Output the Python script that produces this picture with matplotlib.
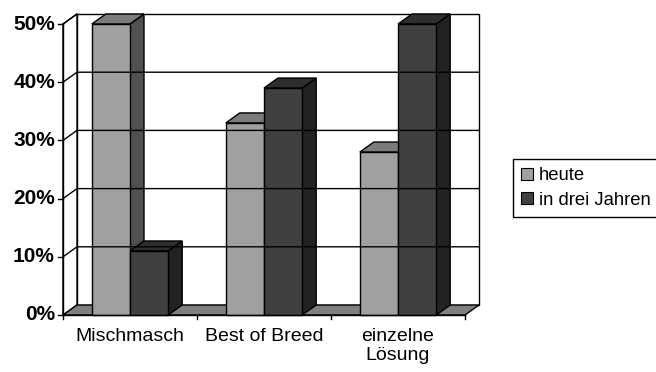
import matplotlib
matplotlib.use("Agg")
import matplotlib.pyplot as plt
from matplotlib.patches import Polygon, Patch

plt.rcParams['font.family'] = ['Liberation Sans', 'DejaVu Sans']

categories = ['Mischmasch', 'Best of Breed', 'einzelne\nLösung']
series = ['heute', 'in drei Jahren']
heute = [50, 33, 28]
in_drei_jahren = [11, 39, 50]
yticks = [0, 10, 20, 30, 40, 50]
ytick_labels = ['0%', '10%', '20%', '30%', '40%', '50%']

# face colours per series: front, top, side
colors = {
    'heute': ('#a0a0a0', '#7c7c7c', '#505050'),
    'in drei Jahren': ('#404040', '#2e2e2e', '#222222'),
}

W, H = 656, 372
fig = plt.figure(figsize=(W / 100, H / 100), dpi=100)
ax = fig.add_axes([0, 0, 1, 1])
ax.axis('off')

# category width 134 px, 10% = 58.2 px
px_x = 134.0
px_y = 5.82
ax.set_xlim(-0.5 - 63 / px_x, 2.5 + (W - 465) / px_x)
ax.set_ylim(-(H - 315) / px_y, 50 + 24 / px_y)

dx = 14 / px_x
dy = 10 / px_y
bw = 0.285
x0, x1 = -0.5, 2.5
ytop = 50
lw = 1.0

# walls
back = Polygon([(x0 + dx, dy), (x1 + dx, dy), (x1 + dx, ytop + dy), (x0 + dx, ytop + dy)],
               closed=True, facecolor='white', edgecolor='black', lw=lw)
ax.add_patch(back)
left = Polygon([(x0, 0), (x0 + dx, dy), (x0 + dx, ytop + dy), (x0, ytop)],
               closed=True, facecolor='white', edgecolor='black', lw=lw)
ax.add_patch(left)
for v in yticks[1:-1]:
    ax.plot([x0, x0 + dx, x1 + dx], [v, v + dy, v + dy], color='black', lw=lw)
ax.plot([x0, x0 + dx], [ytop, ytop + dy], color='black', lw=lw)

# floor
floor = Polygon([(x0, 0), (x1, 0), (x1 + dx, dy), (x0 + dx, dy)],
                closed=True, facecolor='#808080', edgecolor='black', lw=lw)
ax.add_patch(floor)


def bar3d(left_x, h, name):
    front, top, side = colors[name]
    r = left_x + bw
    ax.add_patch(Polygon([(r, 0), (r + dx, dy), (r + dx, h + dy), (r, h)],
                         closed=True, facecolor=side, edgecolor='black', lw=lw))
    ax.add_patch(Polygon([(left_x, h), (r, h), (r + dx, h + dy), (left_x + dx, h + dy)],
                         closed=True, facecolor=top, edgecolor='black', lw=lw))
    ax.add_patch(Polygon([(left_x, 0), (r, 0), (r, h), (left_x, h)],
                         closed=True, facecolor=front, edgecolor='black', lw=lw))


for i in range(len(categories)):
    bar3d(i - bw, heute[i], 'heute')
    bar3d(i, in_drei_jahren[i], 'in drei Jahren')

# value axis
ax.plot([x0, x0], [0, ytop], color='black', lw=lw)
tick_len = 5 / px_x
for v, lab in zip(yticks, ytick_labels):
    ax.plot([x0 - tick_len, x0], [v, v], color='black', lw=lw)
    ax.text(x0 - 8 / px_x, v, lab, ha='right', va='center',
            fontsize=15, fontweight='bold')

# category axis
ax.plot([x0, x1], [0, 0], color='black', lw=lw)
for b in [x0, 0.5, 1.5, x1]:
    ax.plot([b, b], [0, -4 / px_y], color='black', lw=lw)
for i, c in enumerate(categories):
    ax.text(i, -13 / px_y, c, ha='center', va='top', fontsize=14,
            linespacing=1.15)

handles = [Patch(facecolor=colors[s][0], edgecolor='black', lw=0.8) for s in series]
fig.legend(handles, series, loc='upper left', bbox_to_anchor=(513 / W, 1 - 159 / H),
           frameon=True, fancybox=False, edgecolor='black', framealpha=1,
           fontsize=13.3, handlelength=0.62, handleheight=0.62,
           handletextpad=0.35, labelspacing=0.4, borderpad=0.45,
           borderaxespad=0)

fig.savefig('out.png', dpi=100)
